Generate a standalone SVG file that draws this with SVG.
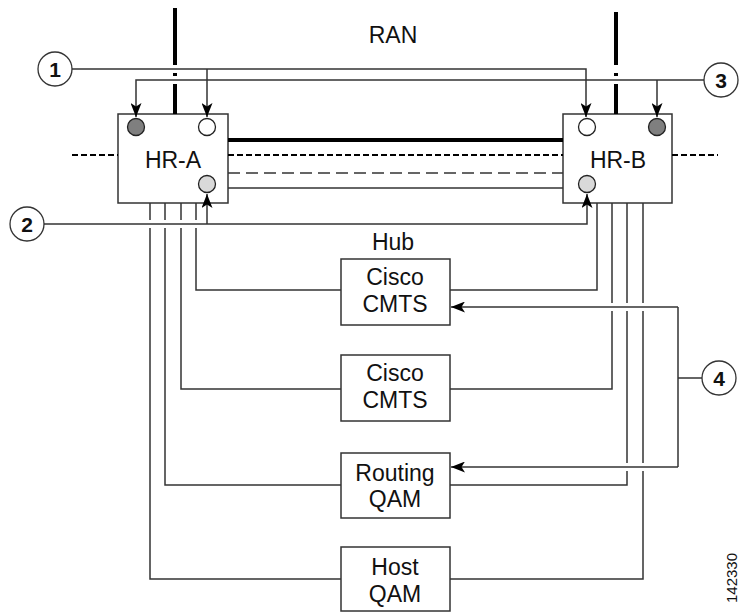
<svg xmlns="http://www.w3.org/2000/svg" width="739" height="612" viewBox="0 0 739 612">
<defs>
<marker id="ah" viewBox="0 0 14 11" refX="14" refY="5.5" markerWidth="14" markerHeight="11" markerUnits="userSpaceOnUse" orient="auto">
<path d="M0,0 L14,5.5 L0,11 L3.5,5.5 z" fill="#000"/>
</marker>
</defs>
<style>
.ln{fill:none;stroke:#333;stroke-width:1.5}
.thick{fill:none;stroke:#000;stroke-width:4}
.dash{fill:none;stroke:#000;stroke-width:2;stroke-dasharray:6 3}
.ldash{fill:none;stroke:#333;stroke-width:1.3;stroke-dasharray:12 6}
.box{fill:#fff;stroke:#333;stroke-width:1.5}
.port{stroke:#222;stroke-width:1.3}
.lbl{font-family:"Liberation Sans",Arial,sans-serif;font-size:23px;fill:#111;text-anchor:middle}
.num{font-family:"Liberation Sans",Arial,sans-serif;font-size:21px;font-weight:bold;fill:#111;text-anchor:middle}
.call{fill:#fff;stroke:#333;stroke-width:1.3}
</style>
<g id="hr-a">
<rect class="box" x="118" y="114" width="110" height="89"/>
<circle class="port" cx="136" cy="127" r="8.5" fill="#7f7f7f"/>
<circle class="port" cx="207" cy="127" r="8.5" fill="#fff"/>
<circle class="port" cx="207" cy="184" r="8.5" fill="#d9d9d9"/>
<text class="lbl" x="173" y="168">HR-A</text>
</g>
<g id="hr-b">
<rect class="box" x="563" y="114" width="109" height="89"/>
<circle class="port" cx="587" cy="127" r="8.5" fill="#fff"/>
<circle class="port" cx="657" cy="127" r="8.5" fill="#7f7f7f"/>
<circle class="port" cx="587" cy="184" r="8.5" fill="#d9d9d9"/>
<text class="lbl" x="618" y="168">HR-B</text>
</g>
<g id="cmts-1">
<rect class="box" x="341" y="259" width="109" height="66"/>
<text class="lbl" x="395" y="285">Cisco</text>
<text class="lbl" x="395" y="312">CMTS</text>
</g>
<g id="cmts-2">
<rect class="box" x="341" y="355" width="109" height="66"/>
<text class="lbl" x="395" y="381">Cisco</text>
<text class="lbl" x="395" y="408">CMTS</text>
</g>
<g id="routing-qam">
<rect class="box" x="341" y="453" width="109" height="65"/>
<text class="lbl" x="395" y="481">Routing</text>
<text class="lbl" x="395" y="507">QAM</text>
</g>
<g id="host-qam">
<rect class="box" x="341" y="547" width="109" height="64"/>
<text class="lbl" x="395" y="575">Host</text>
<text class="lbl" x="395" y="602">QAM</text>
</g>
<g id="callout-1">
<circle class="call" cx="55" cy="69" r="17"/>
<text class="num" x="55" y="76.5">1</text>
</g>
<g id="callout-2">
<circle class="call" cx="27" cy="224" r="17"/>
<text class="num" x="27" y="231.5">2</text>
</g>
<g id="callout-3">
<circle class="call" cx="721" cy="80" r="17"/>
<text class="num" x="721" y="87.5">3</text>
</g>
<g id="callout-4">
<circle class="call" cx="719" cy="378" r="17"/>
<text class="num" x="719" y="385.5">4</text>
</g>
<g id="connectors">
<path class="thick" d="M175,8 V65 M175,73 V76 M175,84 V114"/>
<path class="thick" d="M616,12 V65 M616,73 V76 M616,84 V114"/>
<path class="thick" d="M228,140 H563"/>
<path class="dash" d="M72,155 H118 M228,155 H563 M672,155 H718"/>
<path class="ldash" d="M228,173 H563"/>
<path class="ln" d="M228,188 H563"/>
<path class="ln" d="M196,203 V220 M196,228 V290 H341"/>
<path class="ln" d="M181,203 V220 M181,228 V389 H341"/>
<path class="ln" d="M165,203 V220 M165,228 V485 H341"/>
<path class="ln" d="M150,203 V220 M150,228 V579 H341"/>
<path class="ln" d="M597,203 V290 H450"/>
<path class="ln" d="M612,203 V303 M612,311 V389 H450"/>
<path class="ln" d="M627,203 V303 M627,311 V463 M627,471 V485 H450"/>
<path class="ln" d="M643,203 V303 M643,311 V463 M643,471 V579 H450"/>
<path class="ln" d="M72,69 H586 V117" marker-end="url(#ah)"/>
<path class="ln" d="M207,69 V117" marker-end="url(#ah)"/>
<path class="ln" d="M704,80 H136 V117" marker-end="url(#ah)"/>
<path class="ln" d="M657,80 V117" marker-end="url(#ah)"/>
<path class="ln" d="M44,224 H587 V194" marker-end="url(#ah)"/>
<path class="ln" d="M207,224 V194" marker-end="url(#ah)"/>
<path class="ln" d="M702,378 H678"/>
<path class="ln" d="M678,307 V467"/>
<path class="ln" d="M678,307 H451" marker-end="url(#ah)"/>
<path class="ln" d="M678,467 H451" marker-end="url(#ah)"/>
</g>
<g id="labels">
<text class="lbl" x="393" y="43">RAN</text>
<text class="lbl" x="393" y="250">Hub</text>
<text transform="translate(737,578) rotate(-90)" style="font-family:'Liberation Sans',Arial,sans-serif;font-size:15px;fill:#111;text-anchor:middle">142330</text>
</g>
</svg>
